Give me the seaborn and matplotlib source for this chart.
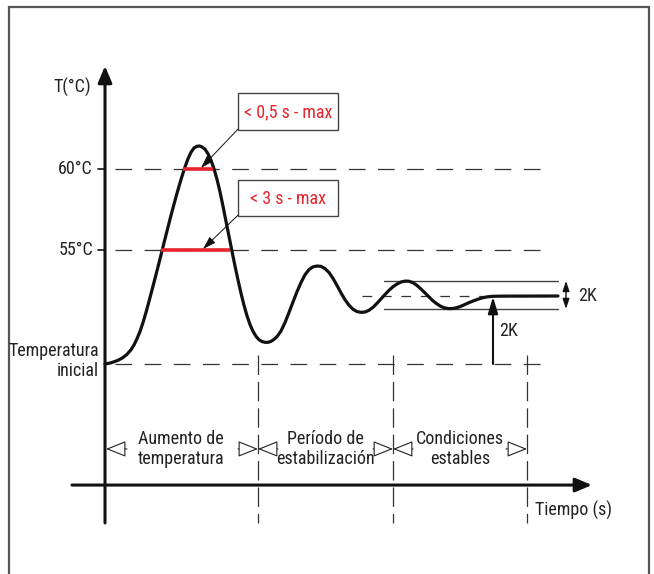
import matplotlib
matplotlib.use("Agg")
import matplotlib.pyplot as plt
import matplotlib.font_manager as fm
import seaborn as sns
import pandas as pd

# ---------------- data ----------------
time_s = [0, 0.5, 1.0, 1.4, 1.8, 2.2, 2.6, 2.9, 3.2, 3.5,
          3.8, 4.1, 4.4, 4.7, 5.0, 5.3, 5.6, 5.9, 6.2, 6.5,
          6.8, 7.1, 7.4, 7.7, 8.0, 8.3, 8.6, 8.9, 9.2, 9.45,
          9.7, 10.0, 10.3, 10.6, 10.9, 11.2, 11.5, 11.8, 12.1, 12.4,
          12.7, 13.0, 13.3, 13.6, 13.9, 14.2, 14.5, 14.8, 15.1, 15.4,
          15.7, 16.0, 16.3, 16.6, 16.9, 17.2, 17.6, 18.0, 18.4, 18.8,
          19.2, 19.6, 20.0, 20.4, 20.8, 21.2, 21.6, 22.0, 22.4, 22.8,
          23.2, 23.6, 24.0, 24.4, 24.8, 25.2, 25.6, 26.0, 26.4, 26.8,
          27.2, 27.6, 28.0, 28.4, 28.8, 29.2, 29.6, 30.0, 30.4, 30.8,
          31.2, 31.6, 32.0, 32.4, 32.8, 33.2, 33.6, 34.0, 34.4, 34.8,
          35.2, 35.6, 36.0, 36.4, 36.8, 37.2, 37.6, 38.0, 38.4, 38.8,
          39.5, 45.3]
temp_c = [47.96, 48.02, 48.12, 48.22, 48.36, 48.56, 48.84, 49.14, 49.52, 49.97,
          50.52, 51.15, 51.83, 52.53, 53.24, 53.96, 54.70, 55.44, 56.17, 56.90,
          57.60, 58.28, 58.93, 59.55, 60.12, 60.63, 61.03, 61.30, 61.40, 61.42,
          61.36, 61.22, 60.94, 60.54, 60.01, 59.36, 58.59, 57.70, 56.77, 55.85,
          54.92, 54.01, 53.15, 52.33, 51.59, 50.94, 50.40, 49.98, 49.67, 49.46,
          49.35, 49.30, 49.30, 49.36, 49.48, 49.65, 50.00, 50.52, 51.14, 51.79,
          52.42, 52.99, 53.47, 53.79, 53.96, 54.01, 53.99, 53.85, 53.61, 53.25,
          52.81, 52.35, 51.93, 51.59, 51.34, 51.20, 51.15, 51.17, 51.28, 51.46,
          51.71, 51.98, 52.25, 52.51, 52.73, 52.90, 53.02, 53.08, 53.07, 52.98,
          52.81, 52.59, 52.35, 52.10, 51.86, 51.67, 51.51, 51.42, 51.38, 51.39,
          51.44, 51.53, 51.64, 51.75, 51.85, 51.94, 52.02, 52.08, 52.12, 52.14,
          52.15, 52.16]

temp_levels = [60.0, 55.0]            # labelled reference temperatures
level_labels = ["60°C", "55°C"]
temp_initial = 47.96                  # "Temperatura inicial"
temp_steady = 52.16                   # stabilised value
band_low, band_high = 51.36, 53.09    # 2K tolerance band
red_spans = [(7.8, 10.8, 60.0), (5.6, 12.5, 55.0)]   # time above 60 / 55
red_texts = ["< 0,5 s - max", "< 3 s - max"]
phase_bounds = [0.0, 15.3, 28.8, 42.2]
phase_labels = ["Aumento de\ntemperatura", "Período de\nestabilización",
                "Condiciones\nestables"]
phase_centers = [7.6, 22.0, 35.5]

# ---------------- font ----------------
names = {f.name for f in fm.fontManager.ttflist}
FONT = None
for cand in ["Liberation Sans Narrow", "Roboto Condensed", "Open Sans Condensed",
             "Noto Sans Condensed", "DejaVu Sans Condensed"]:
    if cand in names:
        FONT = cand
        break
STRETCH = "normal"
if FONT is None:
    FONT = "DejaVu Sans"
    STRETCH = "condensed"

sns.set_theme(style="white")
plt.rcParams["font.family"] = [FONT, "DejaVu Sans"]
plt.rcParams["lines.scale_dashes"] = False

TXT = "#222222"
RED = "#e8232c"
FS = 13

fig = plt.figure(figsize=(6.54, 5.74), dpi=100)
ax = fig.add_axes([0, 0, 1, 1])
ax.set_xlim(-10.5, 54.9)
ax.set_ylim(35.0, 70.43)
ax.axis("off")

def txt(x, y, s, **kw):
    kw.setdefault("fontsize", FS)
    kw.setdefault("color", TXT)
    kw.setdefault("fontstretch", STRETCH)
    ax.text(x, y, s, **kw)

# frame
ax.plot([-9.6, -9.6, 54.4, 54.4], [34.0, 70.0, 70.0, 34.0], color="#555555",
        lw=1.6, clip_on=False, solid_joinstyle="miter")

# dashed reference lines
dash_h = (0, (12, 9))
for lv in temp_levels + [temp_initial]:
    ax.plot([1.0, 43.8], [lv, lv], color="#333333", lw=0.9, ls=dash_h)
ax.plot([25.7, 45.3], [temp_steady, temp_steady], color="#333333", lw=0.9,
        ls=(0, (7, 7)))
# tolerance band
for b in (band_low, band_high):
    ax.plot([27.9, 45.3], [b, b], color="#444444", lw=1.0)

# vertical phase separators
for xb in phase_bounds[1:]:
    ax.plot([xb, xb], [48.52, 38.15], color="#333333", lw=0.9, ls=(0, (14, 5)))

# ticks on the T axis
for lv in temp_levels:
    ax.plot([-0.7, 0], [lv, lv], color="#111111", lw=1.2)

# axes arrows
ax.annotate("", xy=(0, 66.36), xytext=(0, 38.15),
            arrowprops=dict(arrowstyle="-|>,head_length=1.0,head_width=0.42",
                            fc="#111111", ec="#111111", lw=2.2,
                            shrinkA=0, shrinkB=0, mutation_scale=10))
ax.annotate("", xy=(48.7, 40.49), xytext=(-3.3, 40.49),
            arrowprops=dict(arrowstyle="-|>,head_length=1.0,head_width=0.42",
                            fc="#111111", ec="#111111", lw=2.2,
                            shrinkA=0, shrinkB=0, mutation_scale=10))

# the temperature curve
df = pd.DataFrame({"t": time_s, "T": temp_c})
sns.lineplot(data=df, x="t", y="T", ax=ax, color="#111111", lw=2.3,
             sort=False, estimator=None, legend=False)
for ln in ax.get_lines()[-1:]:
    ln.set_solid_joinstyle("round")
    ln.set_solid_capstyle("round")

# red spans
for x0, x1, lv in red_spans:
    ax.plot([x0, x1], [lv, lv], color=RED, lw=2.6, solid_capstyle="butt")

# boxes with red text and pointer arrows
box_tops = [64.69, 59.32]
box_bottoms = [62.41, 57.10]
arrow_tips = [(9.6, 60.06), (9.8, 55.06)]
for s, top, bot, tip in zip(red_texts, box_tops, box_bottoms, arrow_tips):
    ax.add_patch(plt.Rectangle((13.3, bot), 10.0, top - bot, fill=False,
                               ec="#444444", lw=1.0))
    txt(18.3, (top + bot) / 2 - 0.05, s, color=RED, ha="center", va="center")
    ax.annotate("", xy=tip, xytext=(13.3, bot + 0.05),
                arrowprops=dict(arrowstyle="-|>,head_length=0.8,head_width=0.25",
                                fc="#111111", ec="#111111", lw=0.7,
                                shrinkA=0, shrinkB=0, mutation_scale=10))

# 2K indicators
ax.annotate("", xy=(46.1, band_high), xytext=(46.1, band_low),
            arrowprops=dict(arrowstyle="<|-|>,head_length=0.6,head_width=0.2",
                            fc="#111111", ec="#111111", lw=1.0,
                            shrinkA=0, shrinkB=0, mutation_scale=10))
txt(47.3, temp_steady, "2K", ha="left", va="center")
ax.annotate("", xy=(38.8, temp_steady - 0.05), xytext=(38.8, temp_initial),
            arrowprops=dict(arrowstyle="-|>,head_length=1.0,head_width=0.3",
                            fc="#111111", ec="#111111", lw=1.5,
                            shrinkA=0, shrinkB=0, mutation_scale=10))
txt(39.4, 50.0, "2K", ha="left", va="center")

# phase arrows (open triangles)
ya = 42.72
opn = dict(arrowstyle="-|>,head_length=1.25,head_width=0.5", fc="white",
           ec="#222222", lw=0.8, shrinkA=0, shrinkB=0, mutation_scale=10)
ax.annotate("", xy=(phase_bounds[0] + 0.1, ya), xytext=(2.2, ya), arrowprops=opn)
for xb in phase_bounds[1:3]:
    ax.annotate("", xy=(xb, ya), xytext=(xb - 2.0, ya), arrowprops=opn)
    ax.annotate("", xy=(xb, ya), xytext=(xb + 2.0, ya), arrowprops=opn)
ax.annotate("", xy=(phase_bounds[3], ya), xytext=(phase_bounds[3] - 2.1, ya),
            arrowprops=opn)
for cx, lab in zip(phase_centers, phase_labels):
    txt(cx, ya, lab, ha="center", va="center", linespacing=1.15)

# axis labels
txt(-1.4, 65.06, "T(°C)", ha="right", va="center")
for lv, lab in zip(temp_levels, level_labels):
    txt(-1.2, lv, lab, ha="right", va="center")
txt(-0.6, temp_initial + 0.2, "Temperatura\ninicial", ha="right", va="center",
    multialignment="right", linespacing=1.15)
txt(43.0, 38.9, "Tiempo (s)", ha="left", va="center")

fig.savefig("out.png", dpi=100)
